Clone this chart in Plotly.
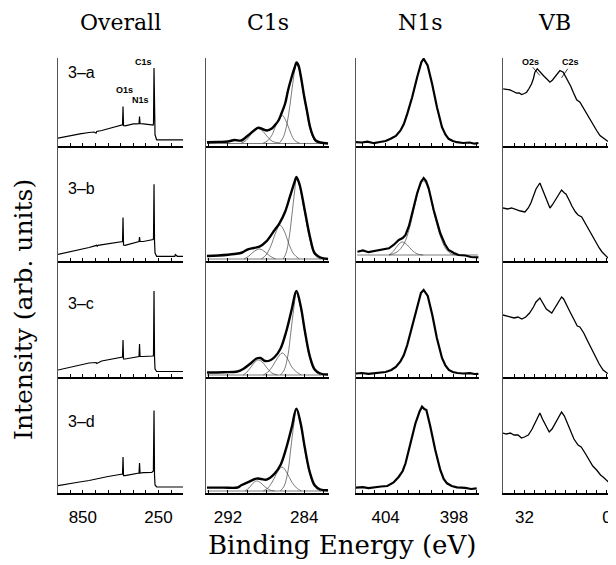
import plotly.graph_objects as go

# ---------------- text ----------------
COLUMN_TITLES = ["Overall", "C1s", "N1s", "VB"]
ROW_LABELS = ["3–a", "3–b", "3–c", "3–d"]
X_TITLE = "Binding Energy (eV)"
Y_TITLE = "Intensity (arb. units)"

# ---------------- ticks ----------------
OV_TICKS = [1050, 950, 850, 750, 650, 550, 450, 350, 250, 150]
OV_TICK_TEXT = ["", "", "850", "", "", "", "", "", "250", ""]
C1S_TICKS = [294, 292, 290, 288, 286, 284, 282]
C1S_TICK_TEXT = ["", "292", "", "", "", "284", ""]
N1S_TICKS = [406, 405, 404, 403, 402, 401, 400, 399, 398, 397, 396]
N1S_TICK_TEXT = ["", "", "404", "", "", "", "", "", "398", "", ""]
VB_TICKS = [40, 36, 32, 28, 24, 20, 16, 12, 8, 4, 0]
VB_TICK_TEXT = ["", "", "32", "", "", "", "", "", "", "", "0"]

# ---------------- Overall (survey) spectra ----------------
OV_A_E = [1047, 1000, 978, 930, 873, 800, 760, 745, 740, 700, 634, 580, 545, 535, 531, 527, 515, 470, 449, 420, 404, 400, 396, 370, 330, 303, 292, 289, 285, 281, 277, 264, 200, 150, 100, 65, 55]
OV_A_I = [7.4, 8.6, 9.7, 10.5, 11.7, 13, 13.5, 12.3, 14, 15, 17.4, 19, 20.5, 20.7, 39, 20, 19.7, 21, 21.7, 21.7, 22, 29, 22, 21.7, 21.5, 20.7, 20.5, 22, 77.4, 20, 10.7, 5.7, 5.7, 6, 5.7, 5.7, 5.7]
OV_B_E = [1047, 978, 900, 800, 740, 735, 730, 650, 560, 540, 535, 531, 527, 515, 470, 420, 404, 400, 396, 370, 310, 292, 289, 285, 281, 277, 264, 200, 150, 120, 116, 100, 65, 55]
OV_B_I = [6.7, 8.5, 10.5, 13.5, 15.7, 14.5, 15.7, 17, 19, 19, 19.5, 43.4, 16, 15.7, 17, 19, 19.5, 24, 19.5, 19.5, 21.4, 21.4, 23, 76.7, 20, 8, 4.7, 4.7, 4.7, 4.7, 6.5, 4.7, 4.7, 4.7]
OV_C_E = [1047, 978, 900, 800, 745, 740, 700, 620, 560, 540, 535, 531, 527, 515, 470, 420, 404, 400, 396, 370, 310, 292, 289, 285, 281, 277, 264, 200, 150, 100, 65, 55]
OV_C_I = [7.0, 9.0, 11, 14, 14.5, 13.5, 16, 18, 19.5, 20, 20, 37, 18, 18, 19, 20, 20.5, 33, 20.5, 20.5, 21, 21, 22.5, 86, 20, 8, 5.5, 5.5, 5.5, 6, 5.5, 5.5]
OV_D_E = [1047, 978, 900, 800, 714, 650, 580, 541, 535, 531, 527, 515, 470, 420, 404, 400, 396, 370, 303, 290, 285, 281, 277, 264, 200, 150, 100, 65, 55]
OV_D_I = [7.3, 8.5, 10.5, 12.5, 15, 16.5, 18, 19, 19, 36, 17.3, 17.3, 18.5, 19.5, 20, 30, 20, 20.3, 20.6, 22, 82.6, 18, 8, 6, 6, 6.3, 6, 6, 6]

# ---------------- C1s spectra (envelope + fitted components) ----------------
C1S_A_E = [294.2, 293.0, 292.0, 291.3, 290.6, 289.9, 289.2, 288.8, 288.4, 287.9, 287.4, 287.1, 286.7, 286.4, 286.0, 285.7, 285.3, 285.0, 284.8, 284.6, 284.35, 284.0, 283.7, 283.4, 283.1, 282.8, 282.3, 281.5]
C1S_A_I = [3.3, 3.6, 4.0, 5.5, 5.0, 10, 15.5, 17.7, 16.5, 15, 17, 20, 25, 31.7, 42, 55, 69, 78, 83, 80, 69, 49, 34, 19, 10, 5, 3, 2]
C1S_A_MAIN_E = [286.6, 286.2, 285.8, 285.5, 285.2, 285.0, 284.82, 284.6, 284.35, 284.0, 283.7, 283.4, 283.1, 282.8, 282.3]
C1S_A_MAIN_I = [2.5, 8, 22, 40, 62, 75, 81, 78, 67, 47, 32, 17, 8.5, 4, 2.5]
C1S_A_C2_E = [288.3, 287.8, 287.3, 286.9, 286.3, 285.8, 285.4, 285.0, 284.5]
C1S_A_C2_I = [2.5, 5, 12, 22, 30, 22, 12, 5, 2.5]
C1S_A_C3_E = [290.6, 290.1, 289.6, 289.2, 288.8, 288.3, 287.8, 287.3, 286.6]
C1S_A_C3_I = [2.5, 5, 11, 15.5, 17, 14, 8, 4, 2.5]

C1S_B_E = [294.2, 293.0, 291.3, 290.5, 289.9, 289.3, 288.7, 288.0, 287.1, 286.6, 286.0, 285.5, 285.0, 284.82, 284.5, 283.95, 283.4, 282.9, 282.3, 281.5]
C1S_B_I = [5, 5.5, 7, 8.5, 11.7, 13, 14.3, 19.3, 31, 37.7, 49.3, 64.3, 79.3, 84, 77, 51, 24.3, 7.7, 3.5, 2]
C1S_B_MAIN_E = [286.2, 285.9, 285.6, 285.3, 285.0, 284.82, 284.5, 283.95, 283.4, 282.9, 282.3]
C1S_B_MAIN_I = [2, 8, 22, 45, 70, 82, 75, 48, 21, 6, 2]
C1S_B_C2_E = [288.5, 288.0, 287.5, 287.0, 286.56, 286.1, 285.6, 285.1, 284.5]
C1S_B_C2_I = [2, 6, 15, 28, 36, 30, 17, 7, 2]
C1S_B_C3_E = [290.3, 289.8, 289.2, 288.65, 288.1, 287.6, 287.0]
C1S_B_C3_I = [2, 5, 10, 12, 9, 5, 2]

C1S_C_E = [294.2, 292.5, 291.0, 290.4, 289.7, 289.0, 288.6, 288.1, 287.6, 287.1, 286.5, 285.9, 285.3, 284.82, 284.37, 283.95, 283.42, 282.9, 282.3, 281.5]
C1S_C_I = [4.5, 4.8, 5.5, 8, 13, 18.5, 19, 16, 16.5, 20, 28, 45, 68, 86, 71, 47, 21, 7.5, 3.5, 2.5]
C1S_C_MAIN_E = [286.5, 286.1, 285.7, 285.4, 285.1, 284.82, 284.37, 283.95, 283.42, 282.9, 282.3]
C1S_C_MAIN_I = [2, 7, 22, 45, 68, 84, 69, 45, 19, 6, 2]
C1S_C_C2_E = [288.3, 287.8, 287.3, 286.8, 286.3, 285.8, 285.3, 284.8, 284.3]
C1S_C_C2_I = [2, 5, 11, 19, 24, 19, 10, 5, 2]
C1S_C_C3_E = [290.4, 290.0, 289.5, 289.1, 288.8, 288.4, 287.9, 287.4, 286.8]
C1S_C_C3_I = [2, 5, 11, 15.5, 17, 15, 9, 4, 2]

C1S_D_E = [294.2, 292.5, 291.0, 290.6, 289.7, 289.0, 288.5, 287.95, 287.1, 286.5, 285.9, 285.3, 284.82, 284.37, 283.95, 283.42, 282.9, 282.3, 281.5]
C1S_D_I = [5.4, 5.4, 5.5, 7.7, 11.7, 14.4, 14, 13.4, 19.4, 27.7, 44.4, 66, 84.4, 69.4, 46, 21, 7.7, 3.5, 2.7]
C1S_D_MAIN_E = [286.5, 286.1, 285.7, 285.4, 285.1, 284.82, 284.37, 283.95, 283.42, 282.9, 282.3]
C1S_D_MAIN_I = [2, 7, 22, 45, 68, 83, 68, 44, 19, 6, 2]
C1S_D_C2_E = [288.3, 287.8, 287.3, 286.8, 286.32, 285.8, 285.3, 284.8, 284.3]
C1S_D_C2_I = [2, 5, 12, 21, 26, 20, 11, 5, 2]
C1S_D_C3_E = [290.2, 289.8, 289.4, 289.0, 288.6, 288.1, 287.6, 287.1]
C1S_D_C3_I = [2, 5, 9.5, 12, 10.5, 6, 3, 2]

C1S_BG_E = [294.2, 281.5]
C1S_BG_I = [2, 2]

# ---------------- N1s spectra ----------------
N1S_A_E = [406.62, 406.1, 405.6, 405.02, 404.5, 404.0, 403.56, 403.1, 402.69, 402.4, 402.1, 401.67, 401.23, 400.86, 400.66, 400.31, 399.92, 399.49, 399.05, 398.75, 398.47, 398.1, 397.74, 397.2, 396.6, 396.2, 395.85]
N1S_A_I = [3.3, 3.0, 3.8, 2.3, 3.5, 4.5, 6.7, 9.5, 15, 21.5, 31.7, 48.3, 68.3, 83.3, 86.7, 80, 61.7, 38.3, 18.3, 11, 6.7, 4.5, 3.3, 2.5, 3.0, 1.8, 2.5]
N1S_B_E = [406.47, 406.0, 405.5, 404.87, 404.3, 403.71, 403.3, 402.84, 402.5, 402.25, 401.95, 401.67, 401.23, 400.9, 400.66, 400.45, 400.22, 399.78, 399.2, 398.8, 398.47, 398.0, 397.6, 397.0, 396.5, 395.85]
N1S_B_I = [9.3, 10.5, 8.8, 10.3, 11.5, 12.7, 16, 21, 23, 26, 35, 47.7, 67.7, 79, 83, 80, 72.7, 51, 27.7, 17, 11, 8, 6, 5.5, 4, 3.7]
N1S_B_MAIN_E = [403.7, 403.0, 402.4, 401.9, 401.4, 401.0, 400.66, 400.22, 399.78, 399.2, 398.7, 398.2, 397.6]
N1S_B_MAIN_I = [6, 9, 17, 33, 57, 75, 80, 71, 49, 25, 12, 7, 6]
N1S_B_C2_E = [403.7, 403.3, 402.9, 402.54, 402.1, 401.7, 401.2, 400.7]
N1S_B_C2_I = [6, 10, 16, 19, 16, 11, 7, 6]
N1S_B_BG_E = [406.5, 395.9]
N1S_B_BG_I = [6, 6]
N1S_C_E = [406.62, 406.1, 405.5, 405.0, 404.5, 404.0, 403.5, 403.1, 402.7, 402.4, 402.1, 401.7, 401.25, 400.9, 400.66, 400.3, 399.9, 399.5, 399.05, 398.75, 398.45, 398.1, 397.7, 397.2, 396.6, 396.2, 395.85]
N1S_C_I = [3.5, 4.0, 3.2, 4.0, 4.5, 5, 7, 10, 15.5, 22, 32, 49, 69, 84, 87, 81, 62, 39, 19, 11.5, 7, 5, 4, 3.5, 3.8, 3.0, 3.2]
N1S_D_E = [406.62, 406.0, 405.5, 405.02, 404.4, 403.85, 403.3, 402.84, 402.5, 402.25, 401.82, 401.38, 401.0, 400.8, 400.6, 400.42, 400.07, 399.64, 399.2, 398.9, 398.61, 398.2, 397.74, 397.0, 396.5, 396.0]
N1S_D_I = [5.3, 5.8, 4.8, 5.7, 6.5, 7, 10.5, 16.3, 22, 29.7, 49.7, 69.7, 82, 86.3, 84, 83, 66.3, 43, 23, 14, 9.7, 7, 5.7, 5.2, 4, 4.7]

# ---------------- Valence band spectra ----------------
VB_A_E = [40.23, 39, 37.63, 36.3, 35.03, 34, 33.09, 32, 31.15, 30.2, 29.21, 28.5, 27.93, 27.03, 26.2, 25.33, 24.3, 23.39, 22.11, 21.1, 20.17, 19.2, 18.23, 16.95, 16, 15.0, 14, 13.07, 11.75, 10.47, 9.2, 7.87, 6.6, 5.3, 4, 2.71, 1.4, 0.11, -1.5, -3.11]
VB_A_I = [56.7, 56, 55.7, 54, 52.3, 52.5, 51, 52, 53.3, 57, 61.7, 67, 73.3, 76.7, 74, 71.7, 69, 66.7, 63.3, 65.5, 69, 72, 75, 73.3, 69, 65, 59, 53.3, 45.7, 43.3, 37.5, 31.7, 26, 20, 15, 10, 7, 5, 2.5, 1]
VB_B_E = [40.3, 38.5, 37, 35, 33.5, 31.8, 30.5, 29.5, 28.3, 27.5, 26.0, 25.0, 24.4, 23.0, 22.1, 21.2, 20.2, 19.0, 17.6, 16.5, 15.9, 14.5, 13.6, 12.2, 11.2, 9.8, 8.5, 7.4, 6, 4.6, 3, 1.9, 0.5, -0.4, -2, -3.3]
VB_B_I = [53, 52, 53, 51, 50, 49, 53, 58, 66, 72, 78, 72, 68, 60, 53, 56, 60, 66, 71, 68, 67, 60, 55, 49, 46, 44, 38, 32, 26, 20, 13, 9, 5, 3, 2, 1.5]
VB_C_E = [40.3, 39, 37.5, 36, 34.5, 33, 31.5, 30, 28.5, 27.5, 26, 25, 23.5, 21.4, 20.5, 19.5, 17.6, 16.8, 15.5, 14.5, 13.3, 11.5, 10.5, 9, 7.5, 6, 4.5, 3, 1.5, 0, -1.5, -3.3]
VB_C_I = [62, 61, 60, 59, 60, 58, 60, 64, 70, 75, 79, 74, 68, 64, 68, 73, 80, 78, 72, 66, 60, 51, 50, 44, 36, 28, 20, 13, 7, 4, 2.5, 2]
VB_D_E = [40.3, 39, 37.5, 36, 34.5, 33.1, 32, 30.5, 29, 27.5, 26, 25, 23.5, 22.4, 21.3, 20, 18.5, 17.6, 16.5, 15.3, 14, 12.8, 11.2, 10, 8.5, 6.6, 5.5, 4, 2.5, 1.4, 0.1, -1, -1.8, -3.1]
VB_D_I = [60, 59, 60, 58, 58, 55, 56, 58, 64, 72, 80, 74, 66, 61, 64, 70, 76, 81, 77, 70, 62, 54, 48, 46, 40, 31, 27, 23, 18, 15.7, 13, 10, 8, 5]

# ---------------- layout geometry (page pixels; page body has an 8px margin) ----------------
OFF = 8
W, H = 616 - OFF, 565 - OFF
COL_PX = [(58, 183), (206, 329), (356, 479), (503, 616)]
ROW_PX = [(58, 145.5), (145.5, 261), (261, 377), (377, 493)]
X_RANGE = [(1047, 55), (294.3, 281.4), (406.6, 395.8), (40.3, -3.5)]
TICKS = [(OV_TICKS, OV_TICK_TEXT), (C1S_TICKS, C1S_TICK_TEXT),
         (N1S_TICKS, N1S_TICK_TEXT), (VB_TICKS, VB_TICK_TEXT)]


def px(xp):
    return (xp - OFF) / W


def py(yp):
    return 1 - (yp - OFF) / H


fig = go.Figure()


def ax_ids(r, c):
    idx = r * 4 + c + 1
    return ("x" if idx == 1 else f"x{idx}"), ("y" if idx == 1 else f"y{idx}"), idx


def add_line(r, c, xs, ys, width, color="black", shape="linear"):
    xa, ya, _ = ax_ids(r, c)
    fig.add_trace(go.Scatter(x=xs, y=ys, mode="lines", xaxis=xa, yaxis=ya,
                             line=dict(color=color, width=width, shape=shape),
                             showlegend=False, hoverinfo="skip"))


OV = [(OV_A_E, OV_A_I), (OV_B_E, OV_B_I), (OV_C_E, OV_C_I), (OV_D_E, OV_D_I)]
C1S = [(C1S_A_E, C1S_A_I), (C1S_B_E, C1S_B_I), (C1S_C_E, C1S_C_I), (C1S_D_E, C1S_D_I)]
C1S_COMPS = [
    [(C1S_A_MAIN_E, C1S_A_MAIN_I), (C1S_A_C2_E, C1S_A_C2_I), (C1S_A_C3_E, C1S_A_C3_I)],
    [(C1S_B_MAIN_E, C1S_B_MAIN_I), (C1S_B_C2_E, C1S_B_C2_I), (C1S_B_C3_E, C1S_B_C3_I)],
    [(C1S_C_MAIN_E, C1S_C_MAIN_I), (C1S_C_C2_E, C1S_C_C2_I), (C1S_C_C3_E, C1S_C_C3_I)],
    [(C1S_D_MAIN_E, C1S_D_MAIN_I), (C1S_D_C2_E, C1S_D_C2_I), (C1S_D_C3_E, C1S_D_C3_I)],
]
N1S = [(N1S_A_E, N1S_A_I), (N1S_B_E, N1S_B_I), (N1S_C_E, N1S_C_I), (N1S_D_E, N1S_D_I)]
VB = [(VB_A_E, VB_A_I), (VB_B_E, VB_B_I), (VB_C_E, VB_C_I), (VB_D_E, VB_D_I)]

for r in range(4):
    add_line(r, 0, *OV[r], width=1.2)
    add_line(r, 1, C1S_BG_E, C1S_BG_I, width=0.7, color="#444")
    for ce, ci in C1S_COMPS[r]:
        add_line(r, 1, ce, ci, width=0.7, color="#444", shape="spline")
    add_line(r, 1, *C1S[r], width=2.4, shape="spline")
    if r == 1:
        add_line(r, 2, N1S_B_BG_E, N1S_B_BG_I, width=0.7, color="#444")
        add_line(r, 2, N1S_B_MAIN_E, N1S_B_MAIN_I, width=0.7, color="#444", shape="spline")
        add_line(r, 2, N1S_B_C2_E, N1S_B_C2_I, width=0.7, color="#444", shape="spline")
    add_line(r, 2, *N1S[r], width=2.2)
    add_line(r, 3, *VB[r], width=1.3)

layout = dict(width=W, height=H, margin=dict(l=0, r=0, t=0, b=0),
              paper_bgcolor="white", plot_bgcolor="white", showlegend=False)

for r in range(4):
    for c in range(4):
        xa, ya, idx = ax_ids(r, c)
        sfx = "" if idx == 1 else str(idx)
        x0, x1 = COL_PX[c]
        y0, y1 = ROW_PX[r]
        tv, tt = TICKS[c]
        layout["xaxis" + sfx] = dict(
            domain=[px(x0), min(1.0, px(x1))], range=list(X_RANGE[c]), anchor=ya,
            showgrid=False, zeroline=False, showline=True, linecolor="black", linewidth=1.5,
            ticks="inside", ticklen=3, tickwidth=1, tickcolor="black",
            tickvals=tv, ticktext=tt, showticklabels=(r == 3),
            tickfont=dict(family="Liberation Sans, Arial", size=17, color="black"),
            ticklabelstandoff=8)
        layout["yaxis" + sfx] = dict(
            domain=[py(y1), py(y0)], range=[0, y1 - y0], anchor=xa,
            showgrid=False, zeroline=False, showline=True, linecolor="#555", linewidth=1,
            ticks="", showticklabels=False)

ann = []
TITLE_X = [120, 268, 420, 554]
for c, t in enumerate(COLUMN_TITLES):
    ann.append(dict(text=t, x=px(TITLE_X[c]), y=py(23), xref="paper", yref="paper",
                    showarrow=False, xanchor="center", yanchor="middle",
                    font=dict(family="DejaVu Serif", size=22, color="black")))
ROW_LABEL_Y = [72, 188, 303, 421]
for r, t in enumerate(ROW_LABELS):
    ann.append(dict(text=t, x=px(66), y=py(ROW_LABEL_Y[r]), xref="paper", yref="paper",
                    showarrow=False, xanchor="left", yanchor="middle",
                    font=dict(family="Liberation Sans, Arial", size=16, color="black")))
ann.append(dict(text=X_TITLE, x=px(342), y=py(545), xref="paper", yref="paper",
                showarrow=False, xanchor="center", yanchor="middle",
                font=dict(family="DejaVu Serif", size=26, color="black")))
ann.append(dict(text=Y_TITLE, x=px(23), y=py(310), xref="paper", yref="paper",
                showarrow=False, xanchor="center", yanchor="middle", textangle=-90,
                font=dict(family="DejaVu Serif", size=25, color="black")))

# peak labels
small = dict(family="Liberation Sans, Arial", size=9, color="black")
ann.append(dict(text="<b>C1s</b>", x=372, y=83.7, xref="x", yref="y", showarrow=False, font=small))
ann.append(dict(text="<b>O1s</b>", x=523, y=56, xref="x", yref="y", showarrow=False, font=small))
ann.append(dict(text="<b>N1s</b>", x=396, y=45.7, xref="x", yref="y", showarrow=False, font=small))
ann.append(dict(text="<b>O2s</b>", x=29.5, y=84, xref="x4", yref="y4", showarrow=False, font=small))
ann.append(dict(text="<b>C2s</b>", x=14.3, y=84, xref="x4", yref="y4", showarrow=False, font=small))
layout["annotations"] = ann
layout["shapes"] = [
    dict(type="line", xref="x4", yref="y4", x0=28.8, y0=78.3, x1=26.0, y1=70,
         line=dict(color="black", width=0.8)),
    dict(type="line", xref="x4", yref="y4", x0=15.2, y0=76.7, x1=17.6, y1=67.7,
         line=dict(color="black", width=0.8)),
]

fig.update_layout(**layout)
fig.write_html("out.html")
